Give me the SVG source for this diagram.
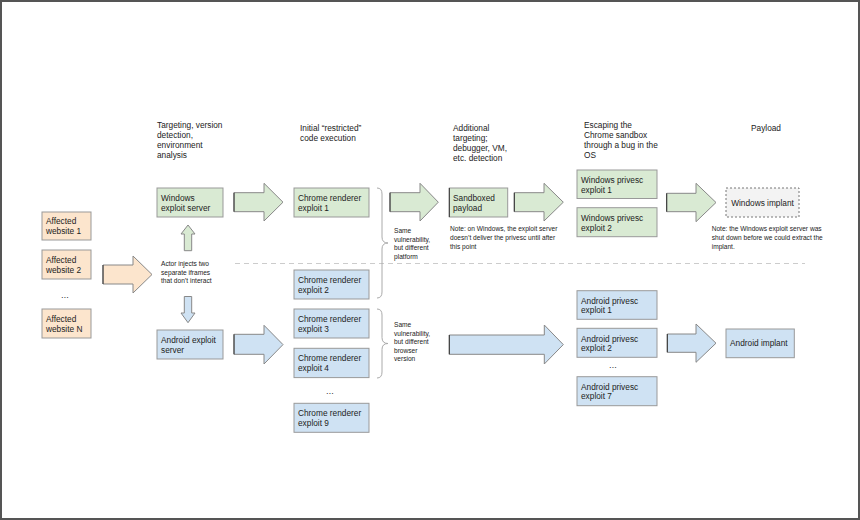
<svg xmlns="http://www.w3.org/2000/svg" width="860" height="520" viewBox="0 0 860 520">
<style>
text{font-family:"Liberation Sans",Arial,sans-serif;fill:#222}
.t{font-size:8.3px}
.s{font-size:6.6px}
.g{fill:#d9ead3;stroke:#999;stroke-width:1}
.b{fill:#cfe2f3;stroke:#999;stroke-width:1}
.o{fill:#fce5cd;stroke:#999;stroke-width:1}
.ag{fill:#d9ead3;stroke:#888;stroke-width:1}
.ab{fill:#cfe2f3;stroke:#888;stroke-width:1}
.ao{fill:#fce5cd;stroke:#888;stroke-width:1}
.br{fill:none;stroke:#aaa;stroke-width:1}
.edge{stroke:#333;stroke-width:1}
</style>
<rect x="0" y="0" width="860" height="520" fill="#fff"/>
<rect x="1" y="1" width="858" height="518" fill="none" stroke="#555" stroke-width="2"/>

<g id="titles">
<text class="t" x="157" y="128">Targeting, version</text>
<text class="t" x="157" y="138">detection,</text>
<text class="t" x="157" y="148">environment</text>
<text class="t" x="157" y="158">analysis</text>
<text class="t" x="300" y="131.3">Initial “restricted”</text>
<text class="t" x="300" y="141.3">code execution</text>
<text class="t" x="453" y="131.3">Additional</text>
<text class="t" x="453" y="141.3">targeting;</text>
<text class="t" x="453" y="151.3">debugger, VM,</text>
<text class="t" x="453" y="161.3">etc. detection</text>
<text class="t" x="584" y="128">Escaping the</text>
<text class="t" x="584" y="138">Chrome sandbox</text>
<text class="t" x="584" y="148">through a bug in the</text>
<text class="t" x="584" y="158">OS</text>
<text class="t" x="766" y="131.3" text-anchor="middle">Payload</text>
</g>

<g id="separator">
<line x1="235" y1="263.5" x2="805" y2="263.5" stroke="#ccc" stroke-width="1" stroke-dasharray="5 4"/>
</g>

<g id="connectors">
<polygon class="ao" points="103,265 133,265 133,256 152,274.5 133,293 133,284 103,284"/>
<line class="edge" x1="103" y1="265" x2="103" y2="284"/>
<polygon class="ag" points="234,192.7 264,192.7 264,183.3 283,202.2 264,221 264,211.7 234,211.7"/>
<line class="edge" x1="234" y1="192.7" x2="234" y2="211.7"/>
<polygon class="ab" points="234,334.3 264,334.3 264,325.3 283,344.6 264,364 264,354.3 234,354.3"/>
<line class="edge" x1="234" y1="334.3" x2="234" y2="354.3"/>
<polygon class="ag" points="390,192.7 420,192.7 420,183.3 438.3,202.2 420,221 420,211.7 390,211.7"/>
<line class="edge" x1="390" y1="192.7" x2="390" y2="211.7"/>
<polygon class="ag" points="514.3,192.7 544,192.7 544,183.3 563.3,202.2 544,221 544,211.7 514.3,211.7"/>
<line class="edge" x1="514.3" y1="192.7" x2="514.3" y2="211.7"/>
<polygon class="ag" points="666.7,193.3 696,193.3 696,183.3 716,202.5 696,221.7 696,211.7 666.7,211.7"/>
<line class="edge" x1="666.7" y1="193.3" x2="666.7" y2="211.7"/>
<polygon class="ab" points="449.3,335 544.3,335 544.3,325 563.3,344.6 544.3,364 544.3,354.3 449.3,354.3"/>
<line class="edge" x1="449.3" y1="335" x2="449.3" y2="354.3"/>
<polygon class="ab" points="667.3,334 696,334 696,324 716,343.2 696,362.3 696,352.3 667.3,352.3"/>
<line class="edge" x1="667.3" y1="334" x2="667.3" y2="352.3"/>
<polygon class="ag" points="184.3,250.7 184.3,234 181,234 188,225 195,234 191.7,234 191.7,250.7"/>
<polygon class="ab" points="184.3,296.5 184.3,313 181,313 188,322.7 195,313 191.7,313 191.7,296.5"/>
<path class="br" d="M377,188 Q382,188 382,194 L382,237 Q382,243 388,243 Q382,243 382,249 L382,292 Q382,298 377,298"/>
<path class="br" d="M377,309 Q382,309 382,315 L382,337.5 Q382,343.5 388,343.5 Q382,343.5 382,349.5 L382,372 Q382,378 377,378"/>
</g>

<g id="affected1"><rect class="o" x="42" y="212" width="49" height="28"/>
<text class="t" x="46" y="224">Affected</text><text class="t" x="46" y="233.7">website 1</text></g>
<g id="affected2"><rect class="o" x="42" y="250" width="49" height="29"/>
<text class="t" x="46" y="263">Affected</text><text class="t" x="46" y="273">website 2</text></g>
<g id="affectedDots"><text class="t" x="65" y="298" text-anchor="middle">…</text></g>
<g id="affectedN"><rect class="o" x="42" y="309" width="49" height="29"/>
<text class="t" x="46" y="322.3">Affected</text><text class="t" x="46" y="332.3">website N</text></g>

<g id="actorNote">
<text class="s" x="161" y="266.4">Actor injects two</text>
<text class="s" x="161" y="275">separate iframes</text>
<text class="s" x="161" y="283.4">that don’t interact</text>
</g>

<g id="winServer"><rect class="g" x="157" y="188" width="66" height="29"/>
<text class="t" x="161" y="200.7">Windows</text><text class="t" x="161" y="210.7">exploit server</text></g>
<g id="andServer"><rect class="b" x="157" y="330" width="66" height="29"/>
<text class="t" x="161" y="343">Android exploit</text><text class="t" x="161" y="353">server</text></g>

<g id="chrome1"><rect class="g" x="294" y="188" width="75" height="29"/>
<text class="t" x="298" y="200.7">Chrome renderer</text><text class="t" x="298" y="210.7">exploit 1</text></g>
<g id="chrome2"><rect class="b" x="294" y="270" width="75" height="29"/>
<text class="t" x="298" y="283">Chrome renderer</text><text class="t" x="298" y="292.5">exploit 2</text></g>
<g id="chrome3"><rect class="b" x="294" y="309" width="75" height="29"/>
<text class="t" x="298" y="322">Chrome renderer</text><text class="t" x="298" y="332">exploit 3</text></g>
<g id="chrome4"><rect class="b" x="294" y="348.3" width="75" height="29.3"/>
<text class="t" x="298" y="361.3">Chrome renderer</text><text class="t" x="298" y="371.3">exploit 4</text></g>
<g id="chromeDots"><text class="t" x="330" y="394" text-anchor="middle">…</text></g>
<g id="chrome9"><rect class="b" x="294" y="403.3" width="75" height="29"/>
<text class="t" x="298" y="416.3">Chrome renderer</text><text class="t" x="298" y="426.3">exploit 9</text></g>

<g id="braceNote1">
<text class="s" x="394" y="233.1">Same</text>
<text class="s" x="394" y="241.7">vulnerability,</text>
<text class="s" x="394" y="250.1">but different</text>
<text class="s" x="394" y="258.7">platform</text>
</g>
<g id="braceNote2">
<text class="s" x="394" y="327.4">Same</text>
<text class="s" x="394" y="336.1">vulnerability,</text>
<text class="s" x="394" y="344.4">but different</text>
<text class="s" x="394" y="352.7">browser</text>
<text class="s" x="394" y="361.1">version</text>
</g>

<g id="sandboxed"><rect class="g" x="449.3" y="188" width="58.4" height="29"/>
<line class="edge" x1="449.3" y1="188" x2="449.3" y2="217"/>
<text class="t" x="453" y="200.7">Sandboxed</text><text class="t" x="453" y="210.7">payload</text></g>
<g id="note1">
<text class="s" x="450" y="231.4">Note: on Windows, the exploit server</text>
<text class="s" x="450" y="240.1">doesn’t deliver the privesc until after</text>
<text class="s" x="450" y="248.7">this point</text>
</g>

<g id="winPriv1"><rect class="g" x="577" y="170" width="80" height="28.5"/>
<text class="t" x="581" y="183">Windows privesc</text><text class="t" x="581" y="193">exploit 1</text></g>
<g id="winPriv2"><rect class="g" x="577" y="207.7" width="80" height="29"/>
<text class="t" x="581" y="220.7">Windows privesc</text><text class="t" x="581" y="230.7">exploit 2</text></g>

<g id="andPriv1"><rect class="b" x="577" y="290.7" width="80" height="28.6"/>
<text class="t" x="581" y="303.7">Android privesc</text><text class="t" x="581" y="313.3">exploit 1</text></g>
<g id="andPriv2"><rect class="b" x="577" y="328.3" width="80" height="29"/>
<text class="t" x="581" y="341.7">Android privesc</text><text class="t" x="581" y="351.3">exploit 2</text></g>
<g id="andPrivDots"><text class="t" x="613" y="368" text-anchor="middle">…</text></g>
<g id="andPriv7"><rect class="b" x="577" y="376.7" width="80" height="29"/>
<text class="t" x="581" y="389.7">Android privesc</text><text class="t" x="581" y="399">exploit 7</text></g>

<g id="winImplant"><rect x="726" y="188" width="73" height="29" fill="#f3f3f3" stroke="#777" stroke-width="1" stroke-dasharray="2 2"/>
<text class="t" x="762.5" y="205.7" text-anchor="middle">Windows implant</text></g>
<g id="note2">
<text class="s" x="711.7" y="231.4">Note: the Windows exploit server was</text>
<text class="s" x="711.7" y="240.1">shut down before we could extract the</text>
<text class="s" x="711.7" y="248.7">implant.</text>
</g>
<g id="andImplant"><rect class="b" x="726" y="329" width="68.3" height="28.7"/>
<text class="t" x="730" y="346.3">Android implant</text></g>
</svg>
